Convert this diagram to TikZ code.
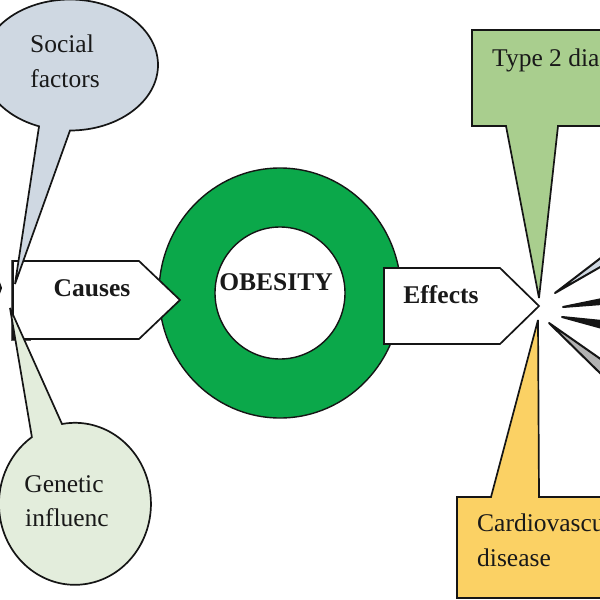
\documentclass[tikz,border=0pt]{standalone}
\usepackage{fontspec}
\setmainfont{Liberation Serif}
\definecolor{socialc}{HTML}{CFD8E2}
\definecolor{geneticc}{HTML}{E3EDDC}
\definecolor{typec}{HTML}{A9CE8E}
\definecolor{cardioc}{HTML}{FBD164}
\definecolor{ringc}{HTML}{0BA84A}
\definecolor{linec}{HTML}{151515}
\tikzset{
  shapeline/.style={draw=linec,line width=1.7pt,line join=miter,miter limit=5},
  lbl/.style={inner sep=0pt,font=\fontsize{25.5}{26}\selectfont,text=black!90},
  lblleft/.style={lbl,anchor=base west},
  blbl/.style={inner sep=0pt,font=\fontsize{25.5}{26}\selectfont\bfseries,text=black!90},
  ray/.style={draw=linec,line width=2pt,line join=round}
}
\begin{document}
\begin{tikzpicture}[x=1pt,y=-1pt]
\useasboundingbox (0,0) rectangle (600,600);
\begin{scope}
\clip (0,0) rectangle (600,600);
\fill[white] (0,0) rectangle (600,600);
% back sliver behind the Causes arrow
\draw[draw=linec!70,line width=1.5pt,fill=white] (12,261) rectangle (30,340);
% green ring
\fill[ringc,draw=linec,line width=1.4pt,even odd rule]
  (280,293) ellipse [x radius=121,y radius=125]
  (280,293) ellipse [x radius=65,y radius=66];
% callouts
\draw[shapeline,fill=typec]
  (620,30) -- (472,30) -- (472,126) -- (506,126) -- (539,298) -- (558,126) -- (620,126) -- cycle;
\draw[shapeline,fill=cardioc]
  (620,497) -- (539,497) -- (538,320) -- (491,497) -- (457,497) -- (457,598) -- (620,598) -- cycle;
% arrows
\draw[shapeline,fill=white] (13,261) -- (139,261) -- (180,300) -- (139,339) -- (13,339) -- cycle;
\draw[shapeline,fill=white] (384,268) -- (500,268) -- (539,306) -- (500,344) -- (384,344) -- cycle;
\draw[shapeline,fill=socialc]
  (70,130.5) arc [start angle=90,end angle=-249.4,x radius=88,y radius=65.5]
  -- (15,284) -- cycle;
\draw[shapeline,fill=geneticc]
  (62,424) arc [start angle=-99.8,end angle=235.5,x radius=76,y radius=81]
  -- (10,308) -- cycle;
% rays entering from the right
\draw[ray,fill=socialc] (555,293) -- (602,257) -- (602,266) -- cycle;
\draw[ray,fill=linec] (563,307) -- (602,299) -- (602,304) -- cycle;
\draw[ray,fill=linec] (562,317) -- (602,321) -- (602,328) -- cycle;
\draw[ray,fill=black!30] (549,323) -- (602,360) -- (602,375) -- cycle;
\draw[ray,fill=linec] (-2,280) -- (1,288) -- (-2,296) -- cycle;
\end{scope}
% labels
\node[lbl] (social) at (62,44) {Social};
\node[lbl] (factors) at (65,79) {factors};
\node[lbl] (genetic) at (64,484) {Genetic};
\node[lbl] (influenc) at (67,518) {influenc};
\node[blbl] (causes) at (92,288) {Causes};
\node[blbl] (obesity) at (276,282) {OBESITY};
\node[blbl] (effects) at (441,295) {Effects};
\node[lblleft] (type) at (492,66) {Type 2 dia};
\node[lblleft] (cardio) at (477,531) {Cardiovascu};
\node[lblleft] (disease) at (477,566) {disease};
\end{tikzpicture}
\end{document}
